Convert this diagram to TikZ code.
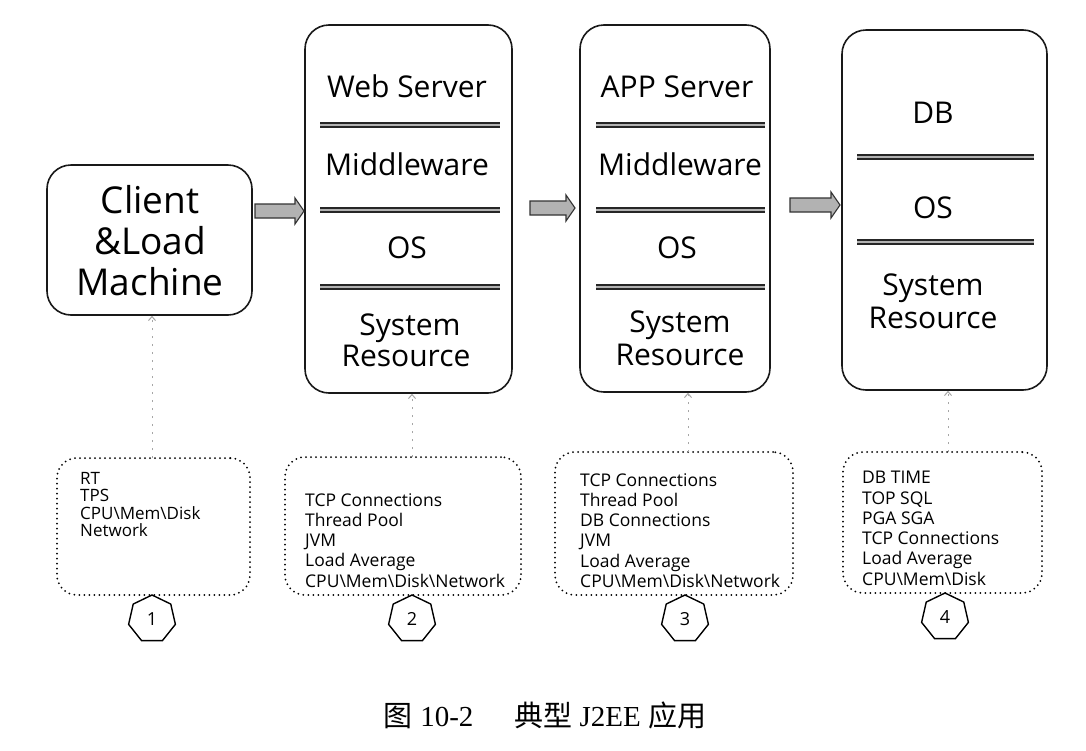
\documentclass[tikz,border=0pt]{standalone}
\usepackage{fontspec}
\setmainfont{Open Sans}
\newfontfamily\cjk{Noto Sans CJK SC}
\newfontfamily\capserif{Liberation Serif}
\usetikzlibrary{arrows.meta,shapes.geometric,calc}
\begin{document}
\begin{tikzpicture}[x=1pt,y=-1pt,
  srv/.style={draw=black!90, line width=1.6pt, rounded corners=24pt, inner sep=0},
  big/.style={font=\fontsize{37}{41}\selectfont, align=center, inner sep=0},
  lbl/.style={font=\fontsize{30}{33}\selectfont, inner sep=0, anchor=base},
  sepline/.style={draw=black!85, line width=1.2pt, double=gray!60, double distance=2.8pt},
  blk/.style={draw=black!80, fill=gray!60, line width=1.1pt, line join=miter},
  metric/.style={draw, line width=2pt, dash pattern=on 0pt off 5pt, line cap=round, rounded corners=20pt, inner sep=0},
  mtext/.style={font=\fontsize{17.5}{20.3}\selectfont, align=left, anchor=north west, inner sep=0},
  probe/.style={draw=gray!70, line width=1pt, dash pattern=on 2pt off 6pt, -{Straight Barb[length=4pt,width=7pt]}},
  hept/.style={draw, regular polygon, regular polygon sides=7, minimum size=48pt, line width=1.4pt, inner sep=0, font=\fontsize{18}{18}\selectfont}
]
\fill[white] (0,0) rectangle (1086,750);
\useasboundingbox (0,0) rectangle (1086,750);

% main boxes
\node[srv, minimum width=205pt, minimum height=150pt] (client) at (149.5,240) {};
\node[big] (clientT) at (150,241) {Client\\\&Load\\Machine};

\node[srv, minimum width=207pt, minimum height=368pt] (web) at (408.5,209) {};
\node[srv, minimum width=190pt, minimum height=367pt] (app) at (675,208.5) {};
\node[srv, minimum width=205pt, minimum height=360pt] (db) at (944.5,210) {};

% separators
\foreach \yy in {125,210,287}{
  \draw[sepline] (320,\yy) -- (500,\yy);
  \draw[sepline] (596,\yy) -- (765,\yy);
}
\foreach \yy in {157,242}{
  \draw[sepline] (857,\yy) -- (1034,\yy);
}

% labels in servers
\node[lbl] (w1) at (407,97) {Web Server};
\node[lbl] (w2) at (407,175) {Middleware};
\node[lbl] (w3) at (407,258) {OS};
\node[lbl] (w4) at (410,335) {System};
\node[lbl] (w5) at (406,366) {Resource};

\node[lbl] (p1) at (677,97) {APP Server};
\node[lbl] (p2) at (680,175) {Middleware};
\node[lbl] (p3) at (677,258) {OS};
\node[lbl] (p4) at (680,332) {System};
\node[lbl] (p5) at (680,365) {Resource};

\node[lbl] (d1) at (933,123) {DB};
\node[lbl] (d2) at (933,218) {OS};
\node[lbl] (d3) at (933,295) {System};
\node[lbl] (d4) at (933,328) {Resource};

% block arrows
\coordinate (a1s) at (255,211);
\draw[blk] (a1s) ++(0,-7) -- ++(40,0) -- ++(0,-6) -- ++(9,13) -- ++(-9,13) -- ++(0,-6) -- ++(-40,0) -- cycle;
\coordinate (a2s) at (530,208);
\draw[blk] (a2s) ++(0,-7) -- ++(36,0) -- ++(0,-6) -- ++(9,13) -- ++(-9,13) -- ++(0,-6) -- ++(-36,0) -- cycle;
\coordinate (a3s) at (790,205);
\draw[blk] (a3s) ++(0,-7) -- ++(41,0) -- ++(0,-6) -- ++(9,13) -- ++(-9,13) -- ++(0,-6) -- ++(-41,0) -- cycle;

% metric boxes
\node[metric, minimum width=193pt, minimum height=137pt] (m1) at (153.5,526.5) {};
\node[metric, minimum width=236pt, minimum height=138pt] (m2) at (403,526) {};
\node[metric, minimum width=238pt, minimum height=143pt] (m3) at (674,523.5) {};
\node[metric, minimum width=199pt, minimum height=141pt] (m4) at (942.5,522.5) {};

\node[mtext, font=\fontsize{17}{17.5}\selectfont] (t1) at (80,472) {RT\\TPS\\CPU\textbackslash Mem\textbackslash Disk\\Network};
\node[mtext] (t2) at (305,493) {TCP Connections\\Thread Pool\\JVM\\Load Average\\CPU\textbackslash Mem\textbackslash Disk\textbackslash Network};
\node[mtext] (t3) at (580,473) {TCP Connections\\Thread Pool\\DB Connections\\JVM\\Load Average\\CPU\textbackslash Mem\textbackslash Disk\textbackslash Network};
\node[mtext] (t4) at (862,471) {DB TIME\\TOP SQL\\PGA SGA\\TCP Connections\\Load Average\\CPU\textbackslash Mem\textbackslash Disk};

% probes
\coordinate (q1) at (152,458);
\coordinate (q2) at (412,457);
\coordinate (q3) at (688,452);
\coordinate (q4) at (948,452);
\draw[probe] (q1) -- (q1 |- client.south);
\draw[probe] (q2) -- (q2 |- web.south);
\draw[probe] (q3) -- (q3 |- app.south);
\draw[probe] (q4) -- (q4 |- db.south);

% heptagons
\node[hept] (h1) at (152,619) {1};
\node[hept] (h2) at (412,619) {2};
\node[hept] (h3) at (685,619) {3};
\node[hept] (h4) at (945,617) {4};

% caption
\node[font=\fontsize{29}{32}\selectfont, inner sep=0] (cap) at (545,715) {{\cjk 图} {\capserif 10-2}\hspace{1.4em}{\cjk 典型} {\capserif J2EE} {\cjk 应用}};
\end{tikzpicture}
\end{document}
